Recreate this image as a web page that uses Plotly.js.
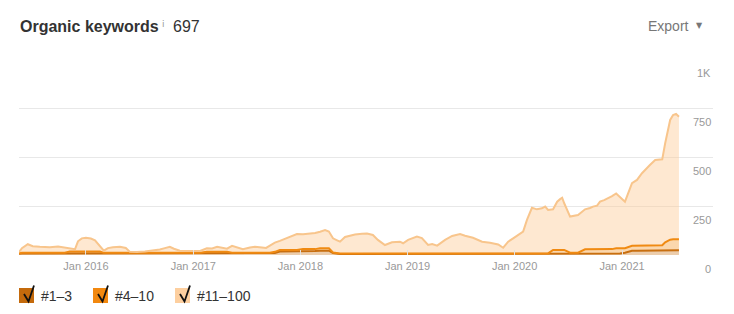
<!DOCTYPE html>
<html><head><meta charset="utf-8">
<script src="https://cdn.plot.ly/plotly-3.0.1.min.js"></script>
<style>html,body{margin:0;padding:0;background:#fff;}#chart{width:734px;height:314px;}</style>
</head><body><div id="chart"></div>
<script>
const dates = ["2015-05-18","2015-05-28","2015-06-17","2015-07-04","2015-07-28","2015-08-31","2015-09-28","2015-10-21","2015-11-07","2015-11-25",
"2015-12-05","2015-12-18","2016-01-01","2016-01-18","2016-02-01","2016-02-18","2016-03-02","2016-03-16","2016-04-02","2016-04-26",
"2016-05-16","2016-05-30","2016-06-23","2016-07-20","2016-08-16","2016-09-09","2016-09-26","2016-10-13","2016-10-27","2016-11-16",
"2016-12-21","2017-01-24","2017-02-16","2017-03-06","2017-03-23","2017-04-09","2017-04-26","2017-05-13","2017-05-30","2017-06-19",
"2017-07-13","2017-07-30","2017-08-23","2017-09-06","2017-09-19","2017-10-06","2017-10-23","2017-11-09","2017-11-30","2017-12-20",
"2018-01-10","2018-02-03","2018-02-20","2018-03-09","2018-03-26","2018-04-08","2018-04-22","2018-05-06","2018-05-16","2018-06-02",
"2018-06-19","2018-07-06","2018-07-30","2018-08-16","2018-09-05","2018-09-22","2018-10-16","2018-11-09","2018-12-06","2018-12-17",
"2019-01-03","2019-01-20","2019-02-02","2019-02-19","2019-03-12","2019-03-26","2019-04-12","2019-05-09","2019-06-02","2019-06-29",
"2019-07-16","2019-08-12","2019-09-12","2019-10-09","2019-11-06","2019-11-23","2019-12-10","2019-12-27","2020-01-13","2020-01-30",
"2020-02-12","2020-02-29","2020-03-17","2020-04-03","2020-04-14","2020-04-24","2020-05-11","2020-05-25","2020-06-04","2020-06-11",
"2020-06-18","2020-07-08","2020-08-04","2020-08-28","2020-09-14","2020-09-24","2020-10-08","2020-10-18","2020-11-01","2020-11-14",
"2020-11-28","2020-12-12","2020-12-25","2021-01-11","2021-02-04","2021-02-21","2021-03-10","2021-03-24","2021-04-06","2021-04-24",
"2021-05-07","2021-05-18","2021-05-28","2021-06-14","2021-06-24","2021-07-04","2021-07-14"];

const pos1_3 = [6,8,8,8,8,8,8,8,10,10,
10,10,10,10,10,10,7,7,7,7,
7,7,7,7,7,7,7,7,7,7,
7,7,8,8,8,8,8,7,7,7,
7,7,7,7,7,10,18,18,18,18,
20,20,20,22,22,22,10,5,5,5,
5,5,5,5,5,5,5,5,5,5,
5,5,5,5,5,5,5,5,5,5,
5,5,5,5,5,5,5,5,5,5,
5,5,5,5,5,5,6,6,6,6,
6,6,6,8,8,8,8,8,8,8,
8,8,8,12,22,22,22,22,22,22,
22,22,23,24,24,24,24];

const pos4_10 = [3,4,4,4,4,4,4,4,8,8,
8,8,8,8,8,8,4,4,4,4,
4,4,4,4,4,4,4,4,4,5,
5,5,8,8,8,8,8,5,5,5,
5,5,5,5,5,6,8,8,8,8,
10,10,10,12,12,12,3,3,3,3,
3,3,3,3,3,3,3,3,3,3,
3,3,3,3,3,3,3,3,3,3,
3,3,3,3,3,3,3,3,3,3,
3,3,3,3,3,3,20,20,20,20,
20,6,6,21,21,21,21,20,20,20,
22,26,26,23,25,25,25,25,25,27,
27,28,42,54,56,56,56];

const pos11_100 = [6,23,43,33,30,28,31,26,14,12,
52,67,70,66,57,27,11,24,29,31,
25,5,4,7,11,17,24,31,21,10,
8,9,18,17,26,20,16,35,26,17,
26,30,26,24,36,47,46,56,66,81,
76,78,82,85,93,86,72,67,60,84,
92,97,100,102,94,69,43,57,60,52,
69,80,86,78,43,48,40,69,89,99,
90,80,60,55,46,29,60,77,92,111,
171,233,225,230,239,222,207,246,259,266,
238,184,192,204,211,218,223,244,252,261,
270,280,263,237,319,336,370,393,412,436,
438,438,505,611,634,640,625];

const seriesNames = ["#1\u20133", "#4\u201310", "#11\u2013100"];
const tickDates = ["2016-01-01","2017-01-01","2018-01-01","2019-01-01","2020-01-01","2021-01-01"];
const tickLabels = ["Jan 2016","Jan 2017","Jan 2018","Jan 2019","Jan 2020","Jan 2021"];
const yTickVals = [0,250,500,750,1000];
const yTickText = ["0","250","500","750","1K"];
const totalKeywords = "697";

const lineColors = ["#c86f10","#f08a12","#f8c58c"];
const fillColors = ["rgba(200,111,16,0.35)","rgba(244,140,20,0.35)","rgba(253,205,152,0.45)"];
const swatchColors = ["#c46a0c","#f2880f","#fdcf9f"];
const ys = [pos1_3, pos4_10, pos11_100];

const traces = ys.map((y,i)=>({
  type:"scatter", mode:"lines", x:dates, y:y, name:seriesNames[i],
  stackgroup:"one", line:{color:lineColors[i], width:2}, fillcolor:fillColors[i],
  hoverinfo:"skip"
}));

const L=19, R=713, T=59, B=255;
const px = x => (x-L)/(R-L);
const py = y => (B-y)/(B-T);
const FONT = "Arial, Liberation Sans";

const annotations = [];
yTickVals.forEach((v,i)=>annotations.push({xref:"paper",yref:"y",x:1,y:v,xanchor:"right",yanchor:"middle",
  yshift:-13.5,text:yTickText[i],showarrow:false,font:{family:FONT,size:11,color:"#999"}}));
annotations.push({xref:"paper",yref:"paper",x:px(18),y:py(26),xanchor:"left",yanchor:"middle",showarrow:false,
  text:"<b>Organic keywords</b>",font:{family:FONT,size:16,color:"#333"}});
annotations.push({xref:"paper",yref:"paper",x:px(159.5),y:py(23.5),xanchor:"left",yanchor:"middle",showarrow:false,
  text:"i",font:{family:"DejaVu Sans",size:9,color:"#999"}});
annotations.push({xref:"paper",yref:"paper",x:px(171),y:py(26),xanchor:"left",yanchor:"middle",showarrow:false,
  text:totalKeywords,font:{family:FONT,size:16,color:"#333"}});
annotations.push({xref:"paper",yref:"paper",x:px(645.5),y:py(25.5),xanchor:"left",yanchor:"middle",showarrow:false,
  text:"Export",font:{family:FONT,size:14,color:"#777"}});
annotations.push({xref:"paper",yref:"paper",x:px(699.5),y:py(25.5),xanchor:"center",yanchor:"middle",showarrow:false,
  text:"\u25BC",font:{family:"DejaVu Sans",size:8,color:"#777"}});

const shapes = [];
const boxX = [19,93,175], textX = [41,115,197];
boxX.forEach((bx,i)=>{
  shapes.push({type:"rect",xref:"paper",yref:"paper",x0:px(bx),x1:px(bx+15),y0:py(288),y1:py(303),
    fillcolor:swatchColors[i],line:{width:0},layer:"above"});
  shapes.push({type:"path",xref:"paper",yref:"paper",
    path:`M ${px(bx+5)} ${py(294)} L ${px(bx+9.5)} ${py(301.5)} L ${px(bx+15)} ${py(285.5)}`,
    line:{color:"#111",width:1.8},layer:"above"});
  annotations.push({xref:"paper",yref:"paper",x:px(textX[i]-2),y:py(295.5),xanchor:"left",yanchor:"middle",showarrow:false,
    text:seriesNames[i],font:{family:FONT,size:14,color:"#333"}});
});

const layout = {
  width:734, height:314, margin:{l:L,r:734-R,t:T,b:314-B},
  paper_bgcolor:"#fff", plot_bgcolor:"#fff", showlegend:false,
  xaxis:{type:"date", range:["2015-05-18","2021-11-07"], tickmode:"array", tickvals:tickDates, ticktext:tickLabels,
    showgrid:false, zeroline:false, showline:false, ticks:"inside", ticklen:5, tickcolor:"#e2e2e2",
    ticklabelstandoff:3,
    tickfont:{family:FONT,size:11,color:"#999"}, fixedrange:true},
  yaxis:{range:[0,1000], tickmode:"array", tickvals:yTickVals, showticklabels:false, showgrid:true,
    gridcolor:"#e8e8e8", gridwidth:1, zeroline:false, showline:false, fixedrange:true},
  annotations:annotations, shapes:shapes
};
Plotly.newPlot("chart", traces, layout, {staticPlot:true, displayModeBar:false});
</script></body></html>
